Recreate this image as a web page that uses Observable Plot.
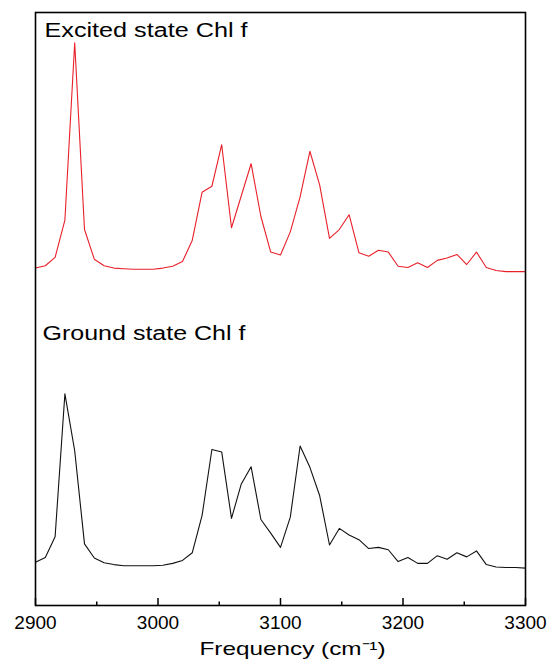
<!DOCTYPE html>
<html><head><meta charset="utf-8">
<script src="https://cdn.jsdelivr.net/npm/d3@7"></script>
<script src="https://cdn.jsdelivr.net/npm/@observablehq/plot@0.6"></script>
<style>body{margin:0;background:#fff}</style>
</head><body><div id="chart"></div>
<script>
// Frequency grid (cm^-1)
const frequency = [2900,2908,2916,2924,2932,2940,2948,2956,2964,2972,2980,2988,2996,3004,3012,3020,3028,3036,3044,3052,3060,3068,3076,3084,3092,3100,3108,3116,3124,3132,3140,3148,3156,3164,3172,3180,3188,3196,3204,3212,3220,3228,3236,3244,3252,3260,3268,3276,3284,3292,3300];
// Excited state Chl f (stacked, arb. units)
const excited = [56.9,57.3,58.7,65.0,94.9,63.4,58.4,57.3,56.9,56.8,56.7,56.7,56.7,56.9,57.2,58.0,61.6,69.7,70.7,77.7,63.7,69.1,74.5,65.6,59.6,59.1,63.0,68.9,76.6,70.9,61.9,63.4,65.9,59.5,58.9,59.9,59.6,57.2,57.0,57.8,57.0,58.2,58.6,59.2,57.5,59.6,57.0,56.5,56.3,56.3,56.3];
// Ground state Chl f (arb. units)
const ground = [7.3,8.1,11.6,35.7,26.1,10.4,8.0,7.2,6.9,6.7,6.7,6.7,6.7,6.8,7.1,7.6,8.9,15.2,26.3,25.9,14.7,20.5,23.4,14.5,12.2,9.8,14.9,26.9,23.3,18.5,10.2,13.0,11.9,11.1,9.6,9.8,9.4,7.4,8.1,7.1,7.1,8.4,7.8,8.9,8.2,9.2,6.9,6.5,6.4,6.4,6.3];
const majorTicks = [2900,3000,3100,3200,3300];
const minorTicks = [2950,3050,3150,3250];
const seriesLabels = ["Excited state Chl f", "Ground state Chl f"];
const axisLabel = "Frequency (cm⁻¹)";

const excitedData = frequency.map((f, i) => ({f, v: excited[i]}));
const groundData = frequency.map((f, i) => ({f, v: ground[i]}));

const chart = Plot.plot({
  width: 549,
  height: 661,
  marginLeft: 35,
  marginRight: 24,
  marginTop: 12,
  marginBottom: 56,
  style: {fontFamily: "'Liberation Sans', Arial, sans-serif", fontSize: "18px", color: "#000", background: "#fff"},
  x: {domain: [2900, 3300]},
  y: {domain: [0, 100], axis: null},
  marks: [
    Plot.line(excitedData, {x: "f", y: "v", stroke: "#e8202a", strokeWidth: 1.1}),
    Plot.line(groundData, {x: "f", y: "v", stroke: "#111", strokeWidth: 1.1}),
    Plot.axisX({ticks: majorTicks, tickSize: -7, strokeWidth: 1.5, fill: null}),
    Plot.axisX({ticks: minorTicks, tickSize: -3.5, strokeWidth: 1.5, fill: null}),
    Plot.axisX({ticks: majorTicks, tickSize: 0, tickPadding: 10, tickFormat: "d", fontSize: 19, label: null}),
    Plot.frame({stroke: "#000", strokeWidth: 1.6}),
    Plot.text([seriesLabels[0]], {frameAnchor: "top-left", dx: 9, dy: 10, lineAnchor: "top", textAnchor: "start", fontSize: 20, fill: "#000"}),
    Plot.text([seriesLabels[1]], {x: () => 2900, y: () => 47.2, dx: 7, lineAnchor: "top", textAnchor: "start", fontSize: 20, fill: "#000"}),
    Plot.text([axisLabel], {frameAnchor: "bottom", dx: 12, dy: 36, lineAnchor: "top", fontSize: 19, fill: "#000"})
  ]
});
d3.select(chart).selectAll("text").each(function() {
  const t = this.textContent;
  if (seriesLabels.includes(t)) d3.select(this).attr("textLength", 203).attr("lengthAdjust", "spacingAndGlyphs");
  else if (t === axisLabel) d3.select(this).attr("textLength", 186).attr("lengthAdjust", "spacingAndGlyphs");
});
document.getElementById("chart").appendChild(chart);
</script>
</body></html>
